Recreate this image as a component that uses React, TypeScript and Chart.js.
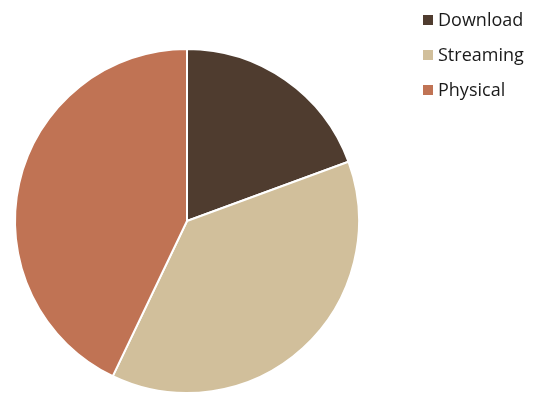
import React, { useEffect, useRef } from "react";
import { Chart, registerables } from "chart.js";

Chart.register(...registerables);

const categories = ["Download", "Streaming", "Physical"];
const shares = [19.4, 37.7, 42.9];
const sliceColors = ["#4f3c2f", "#d1bf9b", "#c07354"];

const legendPlugin = {
  id: "rightLegend",
  afterDraw(chart: any) {
    const ctx = chart.ctx;
    const labels = chart.data.labels as string[];
    const colors = chart.data.datasets[0].backgroundColor as string[];
    ctx.save();
    ctx.font = '18px "Open Sans"';
    ctx.textBaseline = "middle";
    ctx.textAlign = "left";
    labels.forEach((lab, i) => {
      const cy = 20 + i * 35;
      ctx.fillStyle = colors[i];
      ctx.fillRect(423, cy - 5, 10, 10);
      ctx.fillStyle = "#1a1a1a";
      ctx.fillText(lab, 438, cy + 1);
    });
    ctx.restore();
  },
};

export default function App() {
  const ref = useRef<HTMLCanvasElement | null>(null);
  useEffect(() => {
    document.body.style.margin = "0";
    const chart = new Chart(ref.current!, {
      type: "pie",
      data: {
        labels: categories,
        datasets: [
          {
            data: shares,
            backgroundColor: sliceColors,
            borderColor: "#ffffff",
            borderWidth: 2,
          },
        ],
      },
      options: {
        animation: false,
        responsive: true,
        maintainAspectRatio: false,
        layout: { padding: { left: 14, top: 48, right: 178, bottom: 0 } },
        plugins: {
          legend: { display: false },
          tooltip: { enabled: false },
        },
      },
      plugins: [legendPlugin],
    });
    return () => chart.destroy();
  }, []);
  return (
    <div style={{ width: 538, height: 394, position: "relative" }}>
      <canvas ref={ref} />
    </div>
  );
}
